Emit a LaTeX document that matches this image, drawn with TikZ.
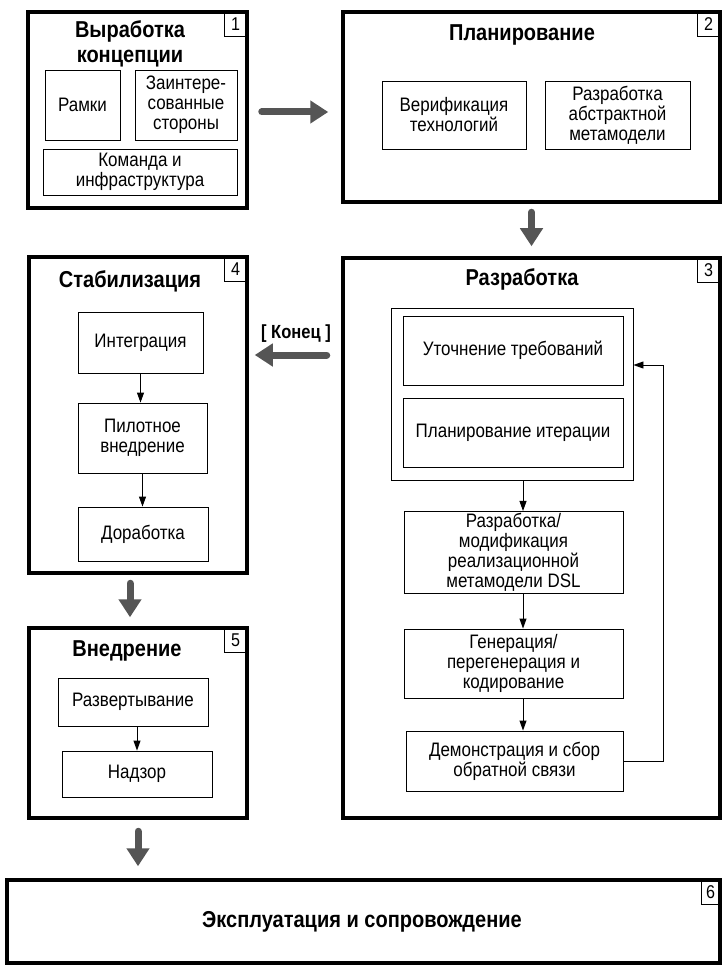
\documentclass[tikz,border=0pt]{standalone}
\usepackage{fontspec}
\setmainfont{Liberation Sans}[FakeStretch=0.87]
\usepackage{xcolor}
\usetikzlibrary{arrows.meta, positioning}
\definecolor{arrowgray}{HTML}{555555}

\begin{document}
\begin{tikzpicture}[x=1pt, y=-1pt, >={Triangle[length=10pt, width=7pt]},
  phase/.style={draw, line width=3.5pt, rectangle, inner sep=0pt},
  stepbox/.style={draw, line width=0.9pt, rectangle, align=center, inner sep=2pt, font=\fontsize{19.5}{20}\selectfont},
  title/.style={font=\bfseries\fontsize{23}{25}\selectfont, align=center},
  numbox/.style={draw, line width=1pt, minimum width=22pt, minimum height=24pt, inner sep=0pt, anchor=north east, font=\fontsize{18.5}{18}\selectfont},
  bigarrow/.style={-{Triangle[width=22pt, length=18pt]}, line width=7pt, arrowgray, line cap=round},
  flow/.style={->, line width=0.9pt}]
  \useasboundingbox (0,0) rectangle (722,965);

  % phase frames
  \node[phase, minimum width=219, minimum height=196] (f1) at (137.5,110) {};
  \node[phase, minimum width=377, minimum height=190] (f2) at (531.5,107) {};
  \node[phase, minimum width=377, minimum height=560] (f3) at (531.5,538) {};
  \node[phase, minimum width=218, minimum height=316] (f4) at (138,415) {};
  \node[phase, minimum width=218, minimum height=190] (f5) at (138,723) {};
  \node[phase, minimum width=713, minimum height=83] (f6) at (363.5,921.5) {};

  \node[numbox] (n1) at ([xshift=-1.75pt, yshift=-1.75pt]f1.north east) {1};
  \node[numbox] (n2) at ([xshift=-1.75pt, yshift=-1.75pt]f2.north east) {2};
  \node[numbox] (n3) at ([xshift=-1.75pt, yshift=-1.75pt]f3.north east) {3};
  \node[numbox] (n4) at ([xshift=-1.75pt, yshift=-1.75pt]f4.north east) {4};
  \node[numbox] (n5) at ([xshift=-1.75pt, yshift=-1.75pt]f5.north east) {5};
  \node[numbox, minimum width=18pt] (n6) at ([xshift=-1.75pt, yshift=-1.75pt]f6.north east) {6};

  % 1
  \node[title] (t1) at (130,44) {Выработка\\концепции};
  \node[stepbox, minimum width=75, minimum height=70] (ramki) at (82.5,105) {Рамки};
  \node[stepbox, minimum width=102, minimum height=70] (stor) at (186,105) {Заинтере-\\сованные\\стороны};
  \node[stepbox, minimum width=194, minimum height=46] (kom) at (140,172) {Команда и\\инфраструктура};

  % 2
  \node[title] (t2) at (522,35) {Планирование};
  \node[stepbox, minimum width=144, minimum height=68] (verif) at (454,115) {Верификация\\технологий};
  \node[stepbox, minimum width=145, minimum height=68] (abstr) at (617.5,115) {Разработка\\абстрактной\\метамодели};

  % 3
  \node[title] (t3) at (522,279) {Разработка};
  \node[draw, line width=0.9pt, minimum width=242, minimum height=172] (grp) at (512,394) {};
  \node[stepbox, minimum width=220, minimum height=69] (utoch) at (513,350.5) {Уточнение требований};
  \node[stepbox, minimum width=220, minimum height=69] (plan) at (513,432.5) {Планирование итерации};
  \node[stepbox, minimum width=219, minimum height=79] (razr) at (513.5,552.5) {Разработка/\\модификация\\реализационной\\метамодели DSL};
  \node[stepbox, minimum width=219, minimum height=69] (gen) at (513.5,663.5) {Генерация/\\перегенерация и\\кодирование};
  \node[stepbox, minimum width=217, minimum height=60] (demo) at (514.5,761) {Демонстрация и сбор\\обратной связи};
  \coordinate (ax) at (523,0);
  \coordinate (fb) at (663,365);
  \draw[flow] (grp.south -| ax) -- (razr.north -| ax);
  \draw[flow] (razr.south -| ax) -- (gen.north -| ax);
  \draw[flow] (gen.south -| ax) -- (demo.north -| ax);
  \draw[flow] (demo.east) -| (fb) -- (fb -| grp.east);

  % 4
  \node[title] (t4) at (130,281) {Стабилизация};
  \node[stepbox, minimum width=125, minimum height=61] (integ) at (140.5,342.5) {Интеграция};
  \node[stepbox, minimum width=129, minimum height=70] (pilot) at (142.5,438) {Пилотное\\внедрение};
  \node[stepbox, minimum width=130, minimum height=54] (dorab) at (143,534) {Доработка};
  \draw[flow] (integ.south) -- (integ.south |- pilot.north);
  \draw[flow] (pilot.south) -- (pilot.south |- dorab.north);

  % 5
  \node[title] (t5) at (127,651) {Внедрение};
  \node[stepbox, minimum width=150, minimum height=48] (deploy) at (133,702) {Развертывание};
  \node[stepbox, minimum width=150, minimum height=46] (nadzor) at (137,774) {Надзор};
  \draw[flow] (nadzor.north |- deploy.south) -- (nadzor.north);

  % 6
  \node[title] (t6) at (362,922) {Эксплуатация и сопровождение};

  % transitions between phases
  \coordinate (k) at (0,355);
  \node[font=\bfseries\fontsize{19}{20}\selectfont] (konec) at (296,334) {[ Конец ]};
  \draw[bigarrow, shorten <=13pt, shorten >=13pt] ([yshift=-2pt]f1.east) -- ([yshift=-2pt]f1.east -| f2.west);
  \draw[bigarrow, shorten <=8.5pt, shorten >=10pt] (f2.south) -- (f3.north);
  \draw[bigarrow, shorten <=14.5pt, shorten >=6pt] (f3.west |- k) -- (f4.east |- k);
  \draw[bigarrow, shorten <=8.5pt, shorten >=9pt] ([xshift=-8pt]f4.south) -- ([xshift=-8pt]f5.north);
  \draw[bigarrow, shorten <=11.5pt, shorten >=12pt] (f5.south) -- (f5.south |- f6.north);
\end{tikzpicture}
\end{document}
